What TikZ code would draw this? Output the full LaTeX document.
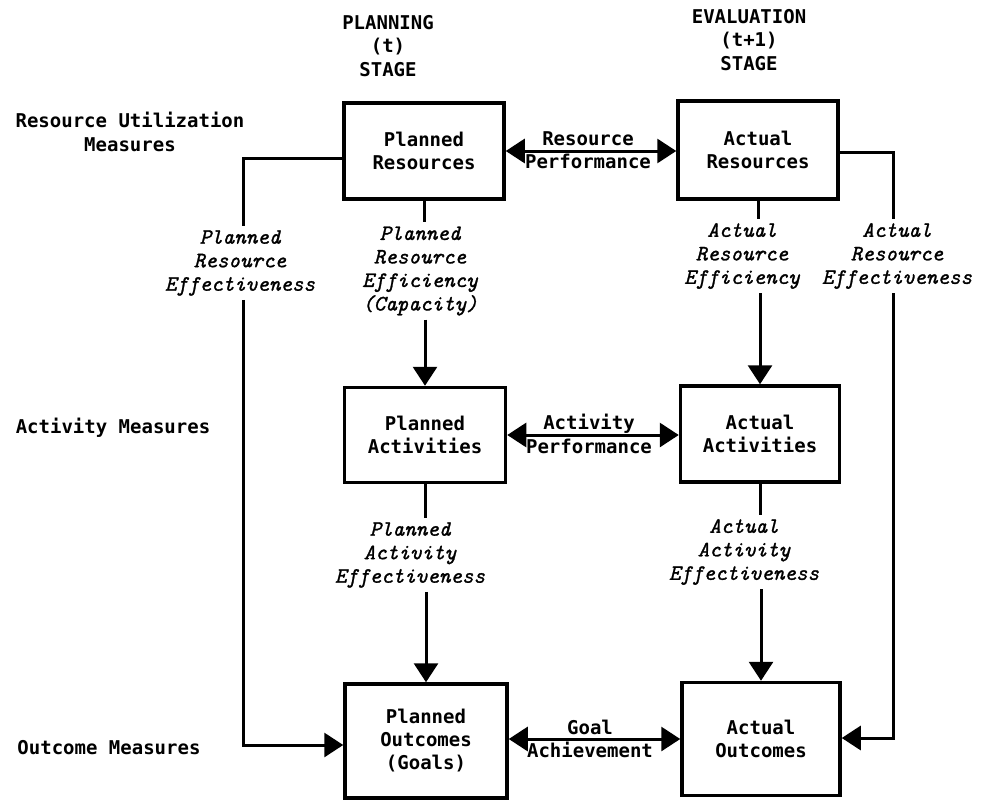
\documentclass[tikz,border=0pt]{standalone}
\usepackage{fontspec}
\newfontfamily\lgfont{DejaVu Sans Mono}
\newfontfamily\scrfont{lmmono10-italic.otf}[FakeBold=1.2]
\usetikzlibrary{arrows.meta}
\tikzset{
  box/.style={draw, line width=3.5pt, minimum width=160pt, minimum height=96pt, align=center, inner sep=0pt,
    font=\lgfont\bfseries\fontsize{19}{23}\selectfont},
  txt/.style={align=center, inner sep=2pt, font=\lgfont\bfseries\fontsize{19}{23.5}\selectfont},
  lbl/.style={align=center, inner sep=4pt, font=\scrfont\fontsize{22}{23.5}\selectfont},
  conn/.style={line width=3pt},
  arr/.style={conn, -{Triangle[length=19pt,width=24pt]}},
  dbl/.style={conn, {Triangle[length=19pt,width=24pt]}-{Triangle[length=19pt,width=24pt]}}
}
\begin{document}
\begin{tikzpicture}[x=1pt,y=-1pt]
\useasboundingbox[fill=white] (0,0) rectangle (981,803);

% headings
\node[txt] (hP) at (388,46) {PLANNING\\(t)\\STAGE};
\node[txt] (hE) at (749,40) {EVALUATION\\(t+1)\\STAGE};

% row labels
\node[txt] (mR) at (130,132) {Resource Utilization\\Measures};
\node[txt] (mA) at (113,428) {Activity Measures};
\node[txt] (mO) at (109,748) {Outcome Measures};

% boxes
\node[box, minimum width=160pt, minimum height=96pt] (PR) at (424,151) {Planned\\Resources};
\node[box, minimum width=160pt, minimum height=98pt] (AR) at (758,150) {Actual\\Resources};
\node[box, minimum width=161pt, minimum height=95pt] (PA) at (425,435) {Planned\\Activities};
\node[box, minimum width=159pt, minimum height=96pt] (AA) at (760,434) {Actual\\Activities};
\node[box, minimum width=162pt, minimum height=114pt] (PO) at (426,741) {Planned\\Outcomes\\(Goals)};
\node[box, minimum width=158pt, minimum height=113pt] (AO) at (761,739) {Actual\\Outcomes};

% horizontal performance arrows
\node[txt] (lRP) at (588,150) {Resource\\Performance};
\node[txt] (lAP) at (589,434) {Activity\\Performance};
\node[txt] (lGA) at (590,739) {Goal\\Achievement};
\draw[dbl] (PR.east) -- (PR.east -| AR.west);
\draw[dbl] (PA.east) -- (PA.east -| AA.west);
\draw[dbl] (PO.east |- lGA) -- (AO.west |- lGA);

% vertical labels
\node[lbl] (lPRE) at (420,271) {Planned\\Resource\\Efficiency\\(Capacity)};
\node[lbl] (lARF) at (742,256) {Actual\\Resource\\Efficiency};
\node[lbl] (lARE) at (897,256) {Actual\\Resource\\Effectiveness};
\node[lbl] (lPREf) at (240,263) {Planned\\Resource\\Effectiveness};
\node[lbl] (lPAE) at (410,555) {Planned\\Activity\\Effectiveness};
\node[lbl] (lAAE) at (744,552) {Actual\\Activity\\Effectiveness};

% vertical connectors
\draw[conn] (PR.south) -- (PR.south |- lPRE.north);
\draw[arr] (PA.north |- lPRE.south) -- (PA.north);
\draw[conn] (AR.south) -- (AR.south |- lARF.north);
\draw[arr] (AA.north |- lARF.south) -- (AA.north);
\draw[conn] (PA.south) -- (PA.south |- lPAE.north);
\draw[arr] (PO.north |- lPAE.south) -- (PO.north);
\draw[conn] (AA.south) -- (AA.south |- lAAE.north);
\draw[arr] (AO.north |- lAAE.south) -- (AO.north);

% feedback lines
\coordinate (cL) at (243,158);
\coordinate (cL2) at (243,745);
\draw[conn] (PR.west |- cL) -- (cL) -- (cL |- lPREf.north);
\draw[arr] (cL |- lPREf.south) -- (cL2) -- (cL2 -| PO.west);
\coordinate (cR) at (893,152);
\coordinate (cR2) at (893,738);
\draw[conn] (AR.east |- cR) -- (cR) -- (cR |- lARE.north);
\draw[arr] (cR |- lARE.south) -- (cR2) -- (cR2 -| AO.east);
\end{tikzpicture}
\end{document}
